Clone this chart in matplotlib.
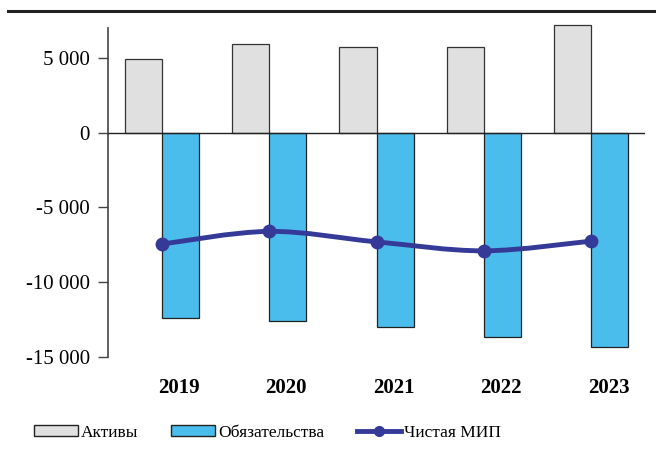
import numpy as np
import matplotlib
matplotlib.use("Agg")
import matplotlib.pyplot as plt
from matplotlib.path import Path
from matplotlib.patches import PathPatch, Patch
from matplotlib.lines import Line2D

years = ["2019", "2020", "2021", "2022", "2023"]
assets = [4950, 5950, 5750, 5750, 7200]
liabilities = [-12400, -12600, -13000, -13650, -14350]
net_mip = [-7450, -6600, -7300, -7900, -7250]

plt.rcParams['font.family'] = ['Liberation Serif', 'DejaVu Serif']
plt.rcParams['font.size'] = 15

gray = "#e0e0e0"
blue = "#4bbdec"
navy = "#353a98"


def smooth_path(xs, ys):
    # Catmull-Rom style bezier, like a spreadsheet "smoothed line"
    pts = np.column_stack([xs, ys]).astype(float)
    verts = [pts[0]]
    codes = [Path.MOVETO]
    n = len(pts)
    for i in range(n - 1):
        p0 = pts[i - 1] if i > 0 else pts[i]
        p1 = pts[i]
        p2 = pts[i + 1]
        p3 = pts[i + 2] if i + 2 < n else pts[i + 1]
        c1 = p1 + (p2 - p0) / 6.0
        c2 = p2 - (p3 - p1) / 6.0
        verts += [c1, c2, p2]
        codes += [Path.CURVE4] * 3
    return Path(verts, codes)


fig = plt.figure(figsize=(6.56, 4.58), dpi=100)
ax = fig.add_axes([108 / 656, 1 - 357 / 458, 537 / 656, 329 / 458])

x = np.arange(len(years))
w = 0.345
ax.bar(x - w / 2, assets, width=w, color=gray, edgecolor="#333333",
       linewidth=0.9, clip_on=False, zorder=2)
ax.bar(x + w / 2, liabilities, width=w, color=blue, edgecolor="#222222",
       linewidth=0.9, clip_on=False, zorder=2)

ax.add_patch(PathPatch(smooth_path(x, net_mip), facecolor="none",
                       edgecolor=navy, linewidth=3.5, zorder=4,
                       capstyle="round"))
ax.plot(x, net_mip, linestyle="none", marker="o", markersize=9,
        color=navy, zorder=5)

ax.axhline(0, color="#222222", linewidth=1.0, zorder=3)

ax.set_xlim(-0.5, 4.5)
ax.set_ylim(-15000, 7000)
ax.set_yticks([5000, 0, -5000, -10000, -15000])
ax.set_yticklabels(["5 000", "0", "-5 000", "-10 000", "-15 000"])
# year labels sit a little right of the category centre in the original
ax.set_xticks(x + 0.16)
ax.set_xticklabels(years, fontweight="bold", fontsize=15)
ax.tick_params(axis="x", length=0, pad=15)
ax.tick_params(axis="y", length=7, width=1, color="#444444", pad=6)

for s in ["top", "right", "bottom"]:
    ax.spines[s].set_visible(False)
ax.spines["left"].set_color("#444444")
ax.spines["left"].set_linewidth(1.2)

# top rule
fig.add_artist(Line2D([8 / 656, 1], [1 - 11 / 458, 1 - 11 / 458],
                      color="#222222", linewidth=2.2))

handles = [
    Patch(facecolor=gray, edgecolor="#222222", label="Активы"),
    Patch(facecolor=blue, edgecolor="#222222", label="Обязательства"),
    Line2D([0], [0], color=navy, linewidth=3.5, marker="o", markersize=7,
           label="Чистая МИП"),
]
fig.legend(handles=handles, loc="center", bbox_to_anchor=(0.408, 1 - 433 / 458),
           ncol=3, frameon=False, handlelength=2.5, handleheight=0.6,
           columnspacing=1.9, handletextpad=0.2, fontsize=12.5)

fig.savefig("out.png", dpi=100)
